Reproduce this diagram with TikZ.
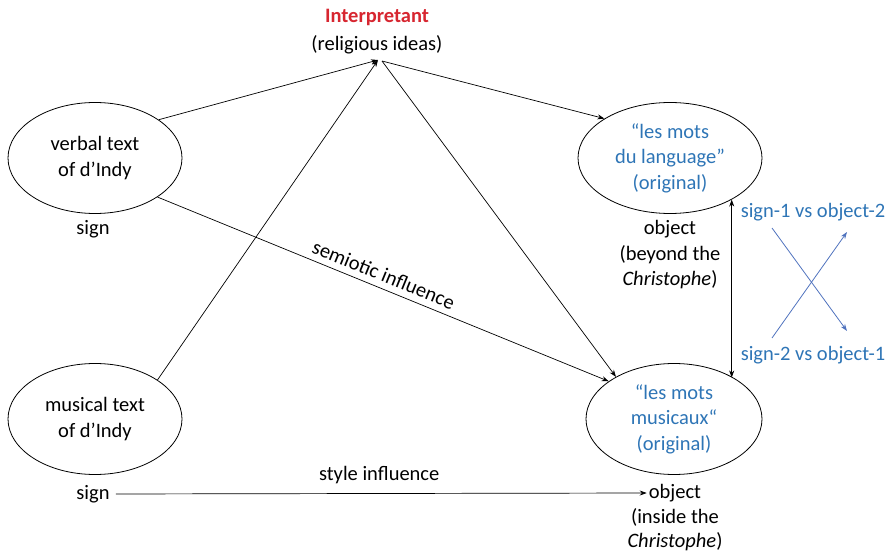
\documentclass[tikz,border=0pt]{standalone}
\usepackage{fontspec}
\setmainfont{Carlito}
\usetikzlibrary{shapes.geometric,arrows.meta}
\definecolor{ptred}{RGB}{215,38,48}
\definecolor{objblue}{RGB}{46,117,182}
\definecolor{crossblue}{RGB}{80,115,190}
\tikzset{
  every node/.style={font=\fontsize{20.5}{25.5}\selectfont, inner sep=0pt, align=center},
  oval/.style={draw, ellipse, line width=0.8pt, minimum width=174pt, minimum height=111pt},
  bluetext/.style={text=objblue},
  conn/.style={line width=0.7pt, -{Stealth[length=7pt,width=5pt]}},
  crossarrow/.style={line width=0.8pt, crossblue, -{Stealth[length=7pt,width=5pt]}}
}
\begin{document}
\begin{tikzpicture}[x=1pt,y=-1pt]
\useasboundingbox (0,0) rectangle (891,553);

% sign ellipses
\node[oval] (verb) at (95,158) {verbal text\\of d’Indy};
\node[oval] (mus)  at (95,419) {musical text\\of d’Indy};

% object ellipses
\node[oval, minimum width=184pt, bluetext] (lang) at (670,158) {“les mots\\du language”\\(original)};
\node[oval, minimum width=176pt, bluetext] (musx) at (674,419) {“les mots\\musicaux“\\(original)};

% interpretant
\node[text=ptred, font=\fontsize{20.5}{25.5}\selectfont\bfseries] (interp) at (377,17) {Interpretant};
\node (relig) at (377,45) {(religious ideas)};
\coordinate (ipin) at (378,60);
\coordinate (ipout) at (382,61);

% role labels
\node (sgn1) at (93,229) {sign};
\node (sgn2) at (93,494) {sign};
\node (obj1) at (670,255) {object\\(beyond the\\\textit{Christophe})};
\node (objw) at (675,493) {object};
\node[font=\fontsize{20.5}{24}\selectfont] (obj2) at (675,530) {(inside the\\\textit{Christophe})};

% comparison labels
\node[bluetext] (s1o2) at (813,212) {sign-1 vs object-2};
\node[bluetext] (s2o1) at (813,355) {sign-2 vs object-1};

% connectors
\draw[conn] (verb.31) -- (ipin);
\draw[conn] (mus.32) -- (ipin);
\draw[conn] (ipout) -- (lang.149.5);
\draw[conn] (ipout) -- (musx.144);
\draw[conn] (verb.328) -- node[sloped, above=6pt, pos=0.49] (semlab) {semiotic influence} (musx.150);
\draw[conn, shorten <=6pt, shorten >=2pt] (sgn2.east) -- node[above=9pt] (stylab) {style influence} (objw.west);
\draw[line width=0.7pt, {Stealth[length=7pt,width=5pt]}-{Stealth[length=7pt,width=5pt]}] (lang.326) -- (lang.326 |- musx.35);

% crossing comparison arrows
\coordinate (ca) at (772,228);
\coordinate (cb) at (847,331);
\coordinate (cc) at (772,338);
\coordinate (cd) at (847,232);
\draw[crossarrow] (ca) -- (cb);
\draw[crossarrow] (cc) -- (cd);
\end{tikzpicture}
\end{document}
